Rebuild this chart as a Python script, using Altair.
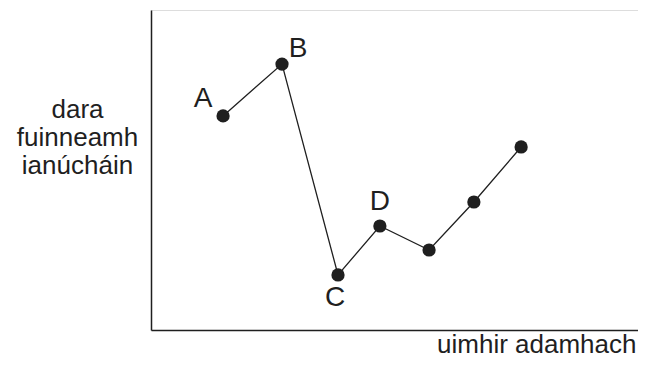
import altair as alt
import pandas as pd

# values (arbitrary units, 0-10 on both axes)
x_vals = [1.48, 2.69, 3.84, 4.70, 5.71, 6.63, 7.60]
y_vals = [6.69, 8.31, 1.72, 3.25, 2.50, 4.00, 5.72]
labels = ["A", "B", "C", "D", "", "", ""]
order = list(range(len(x_vals)))

df = pd.DataFrame({"x": x_vals, "y": y_vals, "label": labels, "order": order})

INK = "#1f1f1f"
FONT = "Liberation Sans"

xs = alt.Scale(domain=[0, 10], nice=False, zero=False)
ys = alt.Scale(domain=[0, 10], nice=False, zero=False)

x_axis = alt.Axis(
    title="uimhir adamhach", ticks=False, labels=False, grid=False,
    domainColor=INK, domainWidth=1.5,
    titleFont=FONT, titleFontSize=26, titleFontWeight="normal", titleColor=INK,
    titleX=485, titleY=22, titleAlign="right", titleBaseline="alphabetic",
)
y_axis = alt.Axis(
    title=["dara", "fuinneamh", "ianúcháin"], ticks=False, labels=False, grid=False,
    domainColor=INK, domainWidth=1.5,
    titleFont=FONT, titleFontSize=26, titleFontWeight="normal", titleColor=INK,
    titleAngle=0, titleX=-74, titleY=107, titleAlign="center",
    titleBaseline="alphabetic", titleLineHeight=28,
)

base = alt.Chart(df)

line = base.mark_line(color=INK, strokeWidth=1.3).encode(
    x=alt.X("x:Q", scale=xs, axis=x_axis),
    y=alt.Y("y:Q", scale=ys, axis=y_axis),
    order="order:Q",
)
pts = base.mark_circle(color=INK, opacity=1, size=175).encode(
    x=alt.X("x:Q", scale=xs), y=alt.Y("y:Q", scale=ys)
)

offsets = {"A": (-20, -17), "B": (16, -15), "C": (-3, 23), "D": (0, -24)}
texts = []
for lab, (dx, dy) in offsets.items():
    texts.append(
        base.transform_filter(alt.datum.label == lab)
        .mark_text(font=FONT, fontSize=28, color=INK, dx=dx, dy=dy,
                   align="center", baseline="middle")
        .encode(x=alt.X("x:Q", scale=xs), y=alt.Y("y:Q", scale=ys), text="label:N")
    )

chart = alt.layer(line, pts, *texts).properties(
    width=487, height=320,
    autosize=alt.AutoSizeParams(type="none"),
    padding={"left": 143, "top": 2, "right": 0, "bottom": 28},
).configure_view(stroke=None).configure(background="white")

chart.save("out.html", embed_options={"renderer": "svg", "actions": False})
